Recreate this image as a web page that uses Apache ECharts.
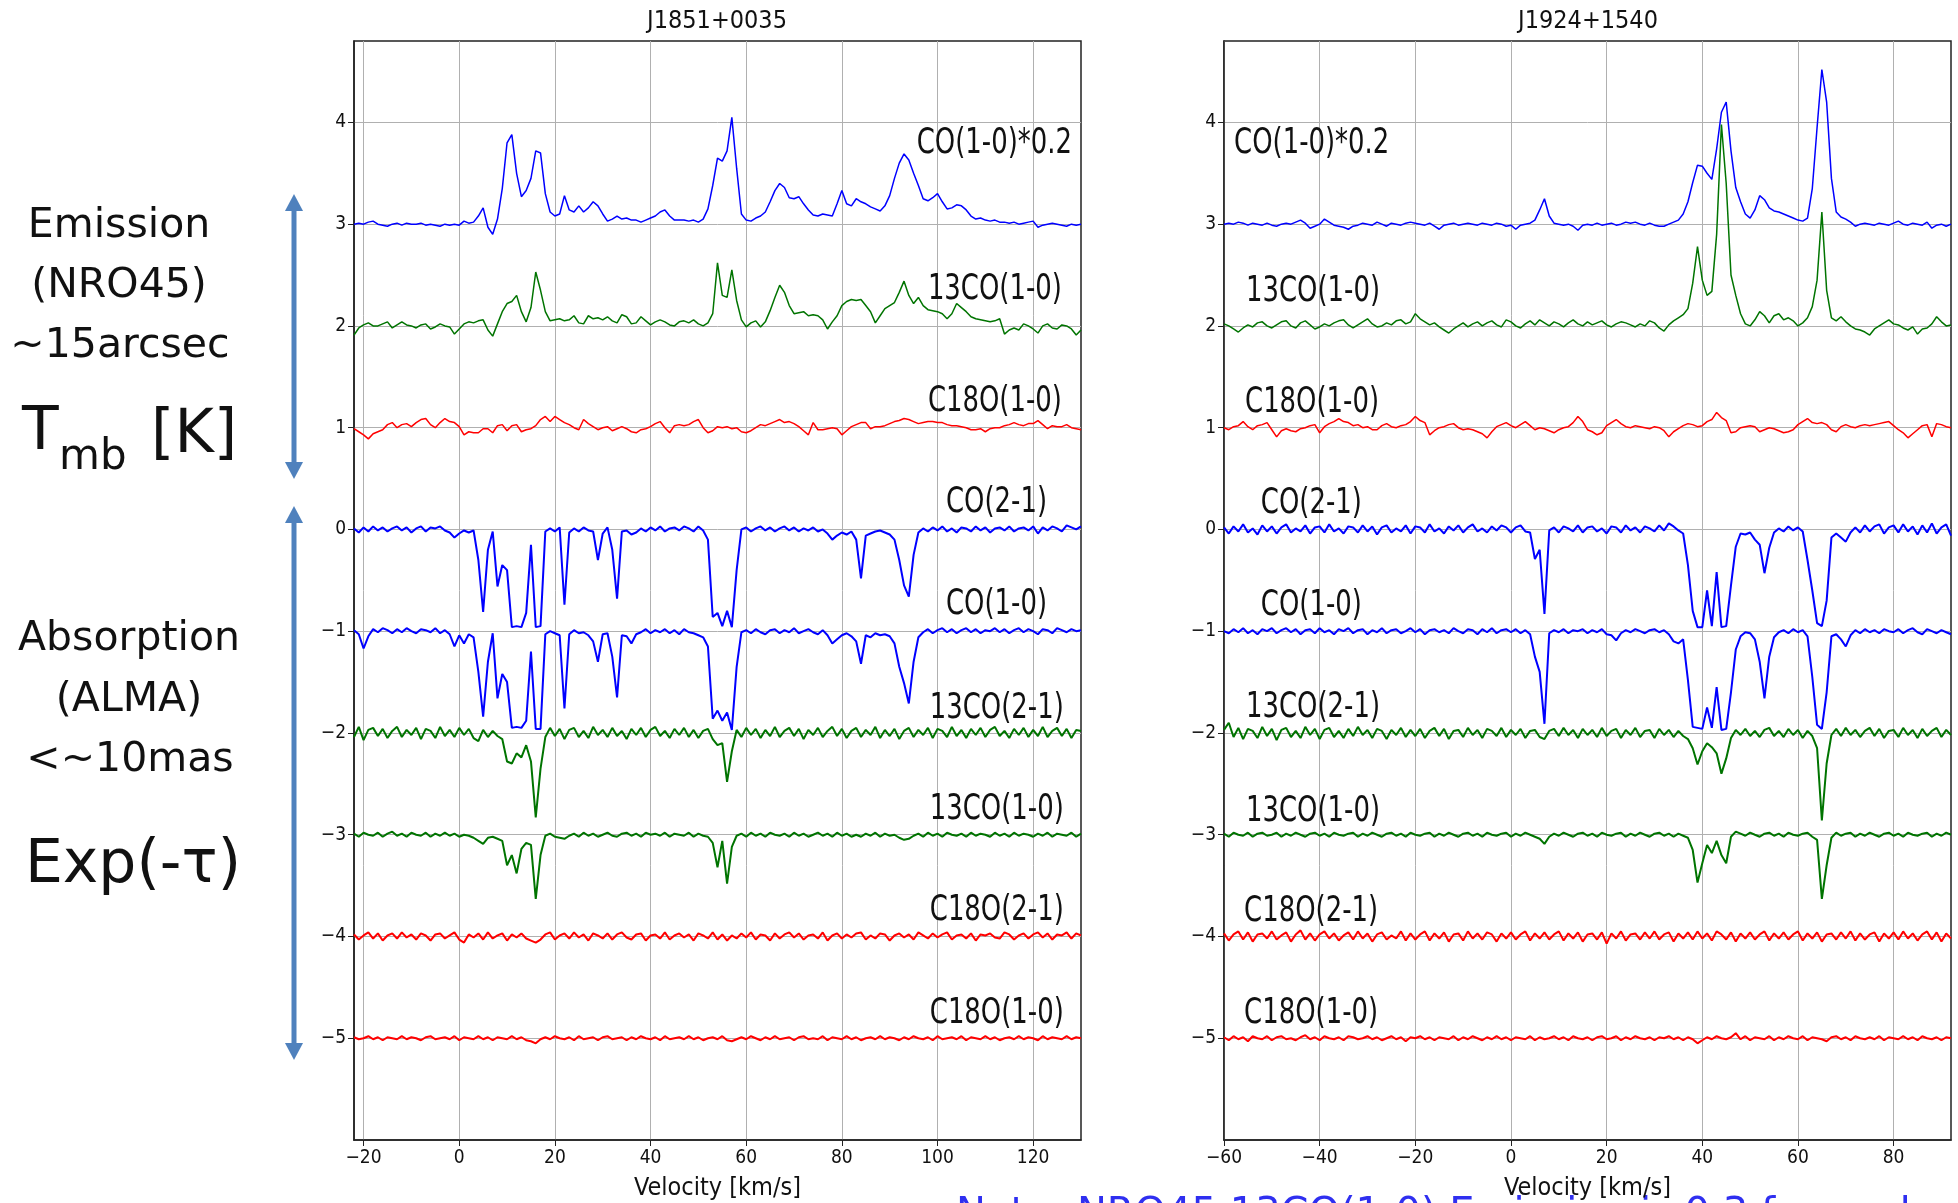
<!DOCTYPE html>
<html>
<head>
<meta charset="utf-8">
<script src="https://cdn.jsdelivr.net/npm/echarts@6/dist/echarts.min.js"></script>
<style>
  html, body { margin: 0; padding: 0; background: #fff; }
  #main { width: 1958px; height: 1203px; }
</style>
</head>
<body>
<div id="main"></div>
<script>
// channel grids, 1 km/s steps starting at these velocities
var leftV0 = -22;
var rightV0 = -60;
var leftXTicks = [-20, 0, 20, 40, 60, 80, 100, 120];
var rightXTicks = [-60, -40, -20, 0, 20, 40, 60, 80];
var yTicks = [-5, -4, -3, -2, -1, 0, 1, 2, 3, 4];

var lineNames = ['CO(1-0)*0.2', '13CO(1-0)', 'C18O(1-0)', 'CO(2-1)', 'CO(1-0)', '13CO(2-1)', '13CO(1-0)', 'C18O(2-1)', 'C18O(1-0)'];
var baselines = [3, 2, 1, 0, -1, -2, -3, -4, -5];

// spectra in 0.01 plot units above their baseline (emission: Tmb, absorption: exp(-tau)-1)
// ---- J1851+0035, v = -22 .. 130 ----
var lCO10e = [
  0,1,0,2,3,0,-1,-2,0,1,
  -1,1,0,0,1,-1,0,-1,-2,0,
  -1,0,-1,3,1,2,8,16,-3,-10,
  5,35,80,88,50,27,33,45,72,70,
  30,12,8,10,28,14,12,18,12,16,
  22,18,10,3,5,8,5,6,4,4,
  2,4,6,8,12,14,8,4,4,4,
  3,4,2,5,15,38,65,62,72,105,
  55,10,4,3,6,8,12,22,33,40,
  36,26,25,27,20,14,9,8,10,9,
  8,20,33,20,18,25,22,20,17,15,
  13,18,28,45,60,69,63,50,38,25,
  23,26,30,22,15,16,19,18,14,8,
  5,6,4,3,4,2,2,1,2,0,
  1,2,3,-3,-1,0,1,0,-1,-2,
  0,-1,0];
var l13CO10e = [
  -9,-2,1,3,0,0,2,4,-2,1,
  4,1,0,-2,1,2,-3,-1,2,0,
  -1,-8,-3,2,4,3,5,6,-4,-10,
  2,14,22,24,30,14,4,18,53,35,
  14,5,6,7,5,6,10,3,2,10,
  7,8,6,9,5,3,11,9,2,3,
  9,5,1,4,6,4,1,0,4,5,
  3,6,2,0,3,12,62,30,28,55,
  25,6,-1,3,5,-1,4,15,28,40,
  33,20,12,13,14,10,11,10,6,-3,
  4,10,20,24,26,25,26,20,14,3,
  10,17,20,23,33,44,30,22,28,20,
  16,15,14,12,7,12,22,18,14,9,
  7,6,5,4,5,7,-8,-4,-2,-4,
  2,0,-3,-7,0,2,-2,-3,1,0,
  -3,-9,-4];
var lC18O10e = [
  -1,-4,-7,-11,-6,-4,-2,3,5,0,
  3,4,1,5,8,9,3,0,5,9,
  6,5,1,-7,-4,-5,-5,-1,-1,-5,
  2,3,-3,2,3,-4,-2,-1,2,8,
  11,6,11,8,5,3,0,-2,8,4,
  1,-2,0,1,-3,-1,1,-1,-4,-5,
  -2,-1,1,4,6,0,-5,2,3,2,
  3,6,8,0,-5,-3,1,0,1,-1,
  0,-4,-5,-3,0,3,2,4,6,8,
  5,6,4,1,-3,-7,5,-2,-2,-1,
  0,-1,-7,-3,1,3,5,5,-1,1,
  1,2,4,6,7,9,8,6,4,5,
  6,6,5,5,3,2,2,1,0,-2,
  -2,-1,-4,-1,0,0,2,3,5,3,
  2,4,4,7,3,-1,2,1,1,3,
  0,-1,-2];
var lCO21a = [
  1,-3,2,-2,3,-1,2,-2,1,3,
  -1,2,-3,1,3,-2,2,1,3,-1,
  -3,-8,-4,-1,-3,-1,-30,-81,-20,-2,
  -56,-35,-40,-96,-95,-96,-82,-15,-96,-95,
  -2,1,-2,2,-74,-3,1,-2,2,-1,
  -2,-30,-4,2,-20,-68,-2,-1,-5,-3,
  1,-2,2,-1,3,-2,1,2,-1,3,
  1,-2,3,-1,-10,-86,-82,-95,-80,-96,
  -40,0,2,-2,1,3,-1,2,-2,1,
  3,-1,2,-2,1,-1,2,-2,0,-4,
  -10,-6,-3,-5,-2,-10,-48,-6,-4,-2,
  -1,-3,-5,-10,-30,-55,-66,-25,-3,1,
  -2,2,-1,3,-2,1,-3,2,1,-2,
  3,-1,2,-3,1,2,-1,3,-2,1,
  2,-1,3,-4,2,-1,3,1,-2,4,
  2,0,3];
var lCO10a = [
  1,-3,-17,-5,2,-1,3,1,-2,2,
  -1,3,0,-2,2,1,-1,3,-2,1,
  -3,-15,-4,-12,-3,-6,-40,-84,-30,-2,
  -66,-42,-50,-95,-94,-95,-88,-20,-96,-96,
  -3,0,-2,-4,-76,-3,1,-2,-1,-4,
  -10,-30,-3,-2,-25,-65,-4,-5,-12,-3,
  -1,2,-2,1,-1,2,-2,1,-3,2,
  -1,-2,-4,-6,-15,-86,-78,-88,-80,-97,
  -35,-1,1,-2,2,-1,-3,1,2,-2,
  1,-1,3,-2,0,2,-1,-3,1,-4,
  -12,-8,-4,-2,-5,-10,-32,-4,-6,-2,
  -4,-3,-5,-12,-35,-51,-71,-30,-6,-1,
  2,-2,1,3,-1,2,-2,1,3,-1,
  2,-2,1,0,3,-1,2,-2,1,3,
  -1,2,0,-3,2,1,-2,3,1,-1,
  2,0,1];
var l13CO21a = [
  -4,6,-7,3,5,-3,4,-5,2,6,
  -4,3,-2,5,-6,4,2,-5,6,-3,
  3,-4,5,-2,4,-5,-8,3,-4,2,
  -3,-6,-28,-30,-20,-24,-12,-28,-83,-35,
  -4,5,-3,4,-6,3,5,-4,2,-5,
  6,-2,3,-4,5,-3,2,-6,4,-2,
  5,-4,3,6,-3,2,-5,4,-2,5,
  -4,3,-5,2,4,-6,-12,-10,-48,-18,
  3,-4,5,-2,4,-5,3,-3,6,-4,
  2,5,-3,4,-6,3,-2,5,-4,2,
  6,-3,4,-5,2,5,-4,3,-2,6,
  -5,3,-3,4,-6,2,5,-4,3,-2,
  5,-5,4,2,-4,6,-3,3,-5,4,
  -2,5,-4,3,6,-3,2,-5,4,-2,
  5,-4,3,-3,6,-4,2,5,-3,4,
  -5,3,2];
var l13CO10a = [
  1,-2,2,0,-1,2,-2,1,3,-1,
  1,-2,2,0,-1,2,-2,1,-1,2,
  -1,1,-2,0,-1,-3,-6,-9,-3,-2,
  -4,-6,-30,-20,-38,-14,-8,-10,-63,-20,
  -1,1,-2,-3,-4,-1,1,-2,2,-1,
  1,-2,0,2,-1,-2,1,2,-1,1,
  -2,2,0,1,-1,2,-2,1,0,-1,
  2,-2,1,-1,-2,-8,-32,-6,-48,-12,
  -1,1,-2,2,-1,1,-2,2,0,-1,
  1,-2,2,-1,1,-2,0,2,-1,1,
  -2,2,-1,1,-2,0,-2,1,-1,2,
  -2,1,-1,0,-3,-5,-4,-1,1,-2,
  2,-1,1,-2,2,0,-1,1,-2,2,
  -1,1,0,-2,2,-1,1,-2,2,-1,
  1,0,-2,1,-1,2,-2,1,0,-1,
  2,-2,1];
var lC18O21a = [
  2,-3,1,4,-2,3,-4,1,3,-2,
  4,-1,2,-3,3,1,-4,2,3,-2,
  1,4,-3,-6,2,-1,3,-3,4,-2,
  1,3,-4,2,-1,3,-2,-4,-6,-3,
  2,4,-3,1,3,-2,4,-1,2,-4,
  3,1,-2,3,-3,2,4,-1,-3,2,
  3,-4,1,2,-2,4,-3,1,3,-1,
  2,-4,3,1,-2,4,-3,2,-4,1,
  -2,3,-1,4,-3,2,1,-4,3,-2,
  2,4,-1,3,-3,1,2,-2,4,-4,
  1,3,-2,2,-1,3,4,-3,1,-2,
  3,2,-4,1,3,-1,2,-3,4,1,
  -2,3,-1,2,4,-3,1,2,-2,3,
  -4,2,1,3,-1,-2,4,2,-3,1,
  3,-2,2,4,-1,3,-3,2,1,4,
  -2,3,1];
var lC18O10a = [
  1,-1,0,2,-1,1,-2,1,0,-1,
  2,-1,1,0,-2,1,2,-1,0,1,
  -1,2,-2,1,0,-1,2,-1,1,-2,
  1,0,-1,2,-1,1,-2,-3,-5,-1,
  1,-1,2,0,-1,1,-2,2,-1,0,
  1,-2,1,2,-1,0,1,-2,1,-1,
  2,0,-1,1,-2,2,-1,0,1,-1,
  2,-1,1,-2,0,1,-1,2,-2,-3,
  -1,1,-1,2,0,-2,1,-1,2,-1,
  0,1,-2,1,2,-1,0,-1,2,-2,
  1,0,-1,2,-1,1,-2,0,1,-1,
  2,-1,1,0,-2,1,-1,2,0,-1,
  1,-2,2,-1,0,1,-1,2,-2,1,
  0,-1,2,-1,1,-2,0,1,-1,2,
  -1,1,0,-2,2,-1,1,0,-1,2,
  -1,1,0];

// ---- J1924+1540, v = -60 .. 92 ----
var rCO10e = [
  0,1,0,2,1,-1,1,0,-1,1,
  -1,-2,0,1,0,2,4,1,-4,-2,
  0,5,2,-1,-2,-3,-5,-2,-1,1,
  0,-1,2,0,-2,1,0,-1,1,2,
  1,0,-1,1,-2,-5,-1,0,1,-1,
  0,1,0,-1,1,0,-1,1,0,-2,
  -1,-5,-1,0,1,4,14,25,8,1,
  0,-1,0,-2,-6,-1,0,-1,1,-1,
  0,1,-1,0,2,1,2,0,-1,1,
  -1,-2,-2,0,2,4,10,22,41,58,
  57,50,44,74,110,120,72,36,22,10,
  6,14,28,24,16,13,12,10,8,6,
  4,3,6,35,95,152,120,45,12,7,
  5,2,-2,0,1,0,-1,1,0,-1,
  1,3,0,-1,1,0,-1,2,-4,-1,
  0,-2,0];
var r13CO10e = [
  2,0,-3,-6,-2,1,-1,3,4,0,
  -2,1,4,5,0,-2,3,5,1,-3,
  -1,2,0,3,5,6,1,-2,1,4,
  7,2,-1,0,3,1,5,6,2,4,
  12,7,4,1,3,-1,-4,-7,-3,0,
  3,-1,2,4,0,3,5,1,-1,6,
  4,0,-2,2,5,1,6,3,0,4,
  2,-1,3,6,2,0,4,1,3,5,
  1,-1,2,4,3,1,-1,2,0,5,
  3,-2,-5,1,5,8,11,17,42,78,
  45,30,34,90,198,140,50,30,12,2,
  0,6,14,10,3,10,12,6,8,5,
  0,3,8,19,45,112,35,8,5,9,
  4,0,-3,-4,-6,-9,-3,0,3,6,
  2,1,-2,-4,-1,-8,-3,-2,2,9,
  4,0,1];
var rC18O10e = [
  0,-2,1,2,6,1,-2,2,3,5,
  -2,-9,-3,-1,-3,-4,-1,0,2,3,
  -5,1,4,6,9,6,5,2,3,0,
  1,-2,-2,2,4,1,0,2,3,6,
  11,7,5,-7,-3,0,1,3,4,0,
  -2,-1,-2,-4,-6,-10,-4,1,3,5,
  2,0,3,6,2,-2,0,-1,-3,-5,
  -2,0,1,5,11,6,-2,-4,-7,-5,
  2,5,8,4,1,0,2,1,0,-1,
  1,0,-3,-9,-4,-1,2,4,3,1,
  2,6,8,15,10,7,-5,-4,0,1,
  2,1,-4,-2,0,-1,-3,-5,-4,-2,
  3,6,9,5,4,5,3,-2,-4,1,
  3,1,0,2,3,2,3,4,5,6,
  2,-2,-5,-10,-6,-2,2,3,-9,4,
  3,1,0];
var rCO21a = [
  2,-4,3,-2,5,-3,1,-5,4,-2,
  3,-4,2,5,-3,1,-2,4,-4,2,
  3,-3,5,-2,1,-4,3,2,-3,4,
  -2,3,-5,2,4,-3,1,-2,4,-4,
  3,2,-3,5,-2,1,-4,3,-1,4,
  -3,2,5,-2,1,-3,3,-1,4,2,
  -3,2,4,-2,-3,-29,-20,-83,-1,2,
  -3,3,1,-2,4,-3,2,3,-2,1,
  -4,3,2,-3,4,-1,2,-3,3,1,
  -2,4,-1,6,3,-1,-4,-35,-80,-96,
  -96,-60,-95,-42,-96,-95,-55,-17,-4,-5,
  -3,-10,-15,-43,-18,-3,1,-2,3,-1,
  2,-2,-30,-60,-92,-95,-70,-8,-4,-8,
  -12,-3,2,-3,4,-2,3,5,-4,2,
  4,-3,5,-2,3,-5,4,-3,6,-4,
  2,5,-6];
var rCO10a = [
  0,-2,2,-1,3,-2,1,-3,2,0,
  3,-2,1,3,-1,2,-3,1,2,-2,
  3,-1,1,-3,2,0,3,-2,1,2,
  -3,1,-1,3,-2,1,2,-2,0,3,
  -1,2,-3,1,2,-1,1,-2,3,0,
  -2,2,1,-3,2,-1,3,-2,1,2,
  -1,2,-2,1,-3,-25,-40,-91,-2,1,
  -1,2,-2,1,0,2,-2,1,-1,2,
  -3,-4,-9,-2,1,-1,2,0,-2,1,
  2,-1,1,-3,-10,-12,-8,-48,-94,-95,
  -96,-75,-95,-55,-97,-96,-60,-18,-5,-1,
  -2,-8,-30,-66,-25,-6,-1,1,-2,2,
  -1,1,-5,-45,-92,-96,-60,-5,-3,-8,
  -15,-4,1,-2,2,-1,1,-2,2,0,
  -1,2,-2,1,3,-1,-3,2,0,-2,
  1,-1,-3];
var r13CO21a = [
  3,10,-4,5,-6,4,2,-5,6,-3,
  4,-7,3,5,-4,2,-5,6,-2,4,
  -6,3,5,-4,2,-5,4,-3,6,-2,
  3,-5,4,2,-6,3,-2,5,-4,3,
  -3,4,-5,2,5,-3,4,-6,2,3,
  -4,5,-2,3,-5,4,2,-3,5,-4,
  3,-2,4,-5,2,3,-4,-6,2,4,
  -3,5,-2,3,-5,4,-2,3,-4,5,
  -3,2,4,-5,3,-2,5,-4,2,3,
  -5,4,-2,3,-4,2,-3,-6,-15,-31,
  -18,-10,-14,-20,-40,-25,-5,3,-2,4,
  -3,2,-4,3,5,-3,2,-4,4,-2,
  3,-5,2,-3,-15,-86,-30,-2,4,-3,
  5,-2,3,-4,2,5,-3,4,-5,2,
  3,-4,5,-2,3,-5,4,-3,2,5,
  -4,3,-2];
var r13CO10a = [
  1,-2,2,0,-1,2,-2,1,2,-1,
  0,2,-2,1,-1,2,0,-2,1,2,
  -1,1,-2,2,0,-1,1,2,-2,1,
  -1,2,0,-2,1,2,-1,1,-2,2,
  0,-1,1,2,-2,1,-1,2,0,-2,
  1,2,-1,1,-2,2,0,-1,1,2,
  -2,1,-1,2,0,-2,-4,-9,-2,1,
  -1,2,0,-2,1,2,-1,1,-2,2,
  0,-1,1,2,-2,1,-1,2,0,-2,
  1,2,-1,1,-2,1,-1,-3,-15,-47,
  -28,-10,-18,-6,-20,-28,-2,3,1,-1,
  2,0,-2,1,2,-1,1,-2,2,0,
  -1,1,2,-2,-5,-63,-30,-3,2,-1,
  1,2,-2,1,-1,2,0,-2,1,2,
  -1,1,-2,2,0,-1,1,2,-2,1,
  -1,2,0];
var rC18O21a = [
  3,-4,2,5,-3,4,-5,2,3,-2,
  5,-3,1,4,-5,2,6,-3,3,-4,
  2,5,-2,3,-4,1,4,-3,5,-2,
  3,-5,2,4,-3,1,-2,5,-4,3,
  -3,2,5,-4,3,-2,4,-5,2,3,
  -4,5,-2,3,-3,4,2,-5,3,-2,
  4,-3,2,5,-4,3,-2,4,-3,2,
  5,-4,3,-2,4,-5,2,3,-3,4,
  -7,3,-2,5,-4,2,3,-3,4,-2,
  5,-3,2,4,-5,3,-2,4,-3,5,
  -2,3,-4,5,2,-3,4,-5,3,-2,
  4,-3,2,5,-4,3,-2,4,-3,2,
  5,-4,3,-2,4,-5,2,3,-3,4,
  -2,5,-4,3,-3,2,4,-5,3,-2,
  4,-3,5,-2,3,-4,2,5,-3,4,
  -5,3,-2];
var rC18O10a = [
  1,-2,2,-1,1,-3,2,0,-1,2,
  -2,1,2,-1,0,-2,1,3,-1,1,
  -2,2,0,-1,1,-2,2,1,-1,0,
  2,-1,1,-2,0,2,-1,1,-3,1,
  0,2,-1,1,-2,1,0,-1,2,-2,
  1,-1,2,0,-2,1,-1,2,-1,1,
  -2,1,0,-1,2,-2,1,-1,0,2,
  -1,1,-2,2,0,-1,1,-2,1,2,
  -1,0,2,-2,1,-1,2,0,-1,1,
  -2,1,0,2,-1,1,-2,1,-1,-5,
  -2,1,-1,2,0,-1,1,5,-1,2,
  -2,1,0,-1,2,-2,1,-1,2,0,
  -1,2,-2,1,0,-1,-3,1,2,-1,
  1,-2,2,0,-1,1,-1,2,-2,1,
  0,-1,2,-1,1,-2,2,0,-1,1,
  -2,1,0];

var leftSpectra = [lCO10e, l13CO10e, lC18O10e, lCO21a, lCO10a, l13CO21a, l13CO10a, lC18O21a, lC18O10a];
var rightSpectra = [rCO10e, r13CO10e, rC18O10e, rCO21a, rCO10a, r13CO21a, r13CO10a, rC18O21a, rC18O10a];

// layout / styles
var lineColors = ['#0000ff', '#007400', '#ff0000', '#0000ff', '#0000ff', '#007400', '#007400', '#ff0000', '#ff0000'];
var axisFont = "'DejaVu Sans Condensed', 'DejaVu Sans', sans-serif";
var labelFont = "'DejaVu Sans Condensed', 'DejaVu Sans', sans-serif";
var sideFont = "'DejaVu Sans', Verdana, sans-serif";
// where each line name sits, in data units (right edge on the left panel, left edge on the right panel)
var leftLabelAt = [[128.1, 3.79], [126, 2.36], [126, 1.26], [122.9, 0.26], [122.9, -0.74], [126.4, -1.76], [126.4, -2.75], [126.4, -3.75], [126.4, -4.76]];
var rightLabelAt = [[-57.9, 3.79], [-55.4, 2.34], [-55.6, 1.25], [-52.3, 0.25], [-52.3, -0.75], [-55.4, -1.75], [-55.4, -2.77], [-55.8, -3.76], [-55.8, -4.76]];

var myChart = echarts.init(document.getElementById('main'));

function fmt(v) {
  return v < 0 ? '\u2212' + (-v) : '' + v;
}

function makeSeries(vals, v0, k, gi) {
  return {
    type: 'line',
    xAxisIndex: gi,
    yAxisIndex: gi,
    data: vals.map(function (d, i) { return [v0 + i, baselines[k] + d / 100]; }),
    showSymbol: false,
    symbol: 'none',
    silent: true,
    animation: false,
    lineStyle: { color: lineColors[k], width: k < 3 ? 1.5 : 2 },
    itemStyle: { color: lineColors[k] },
    z: 3
  };
}

function xAxisDef(gi, min, max, ticks) {
  return {
    type: 'value', gridIndex: gi, min: min, max: max,
    name: 'Velocity [km/s]', nameLocation: 'middle', nameGap: 36,
    nameTextStyle: { fontFamily: axisFont, fontSize: 25, color: '#111' },
    axisLine: { show: true, onZero: false, lineStyle: { color: '#222', width: 1.5 } },
    axisTick: { show: true, customValues: ticks, length: 6, lineStyle: { color: '#222' } },
    axisLabel: { customValues: ticks, formatter: fmt, fontFamily: axisFont, fontSize: 19, color: '#111', margin: 9 },
    splitLine: { show: true, lineStyle: { color: '#b0b0b0', width: 1 } }
  };
}

function yAxisDef(gi) {
  return {
    type: 'value', gridIndex: gi, min: -6, max: 4.8,
    axisLine: { show: true, onZero: false, lineStyle: { color: '#222', width: 1.5 } },
    axisTick: { show: true, customValues: yTicks, length: 6, lineStyle: { color: '#222' } },
    axisLabel: { customValues: yTicks, formatter: fmt, fontFamily: axisFont, fontSize: 19, color: '#111', margin: 8 },
    splitLine: { show: true, lineStyle: { color: '#b0b0b0', width: 1 } }
  };
}

var series = [];
leftSpectra.forEach(function (s, k) { series.push(makeSeries(s, leftV0, k, 0)); });
rightSpectra.forEach(function (s, k) { series.push(makeSeries(s, rightV0, k, 1)); });

var option = {
  backgroundColor: '#fff',
  animation: false,
  grid: [
    { left: 354, right: 877, top: 41, bottom: 63, show: true, borderColor: '#222', borderWidth: 1.5, outerBoundsMode: 'none' },
    { left: 1224, right: 7, top: 41, bottom: 63, show: true, borderColor: '#222', borderWidth: 1.5, outerBoundsMode: 'none' }
  ],
  xAxis: [xAxisDef(0, -22, 130, leftXTicks), xAxisDef(1, -60, 92, rightXTicks)],
  yAxis: [yAxisDef(0), yAxisDef(1)],
  series: series
};
myChart.setOption(option);

// annotations
var graphic = [];
function addText(str, x, y, size, font, align, sx) {
  graphic.push({
    type: 'text', x: x, y: y, scaleX: sx || 1, silent: true, z: 10,
    style: { text: str, fontSize: size, fontFamily: font, fill: '#111', textAlign: align || 'center', textVerticalAlign: 'middle' }
  });
}
addText('J1851+0035', 717, 21, 25, axisFont);
addText('J1924+1540', 1588, 21, 25, axisFont);

// line names, squeezed horizontally like the original figure
lineNames.forEach(function (name, k) {
  var p = myChart.convertToPixel({ gridIndex: 0 }, leftLabelAt[k]);
  addText(name, p[0], p[1], 36, labelFont, 'right', 0.8);
  var q = myChart.convertToPixel({ gridIndex: 1 }, rightLabelAt[k]);
  addText(name, q[0], q[1], 36, labelFont, 'left', 0.8);
});

addText('Emission', 119, 226, 41, sideFont);
addText('(NRO45)', 119, 286, 41, sideFont);
addText('~15arcsec', 120, 346, 41, sideFont);
addText('T', 22, 433, 60, sideFont, 'left');
addText('mb', 59, 458, 42, sideFont, 'left');
addText('[K]', 151, 436, 60, sideFont, 'left');
addText('Absorption', 129, 639, 41, sideFont);
addText('(ALMA)', 129, 700, 41, sideFont);
addText('<~10mas', 130, 760, 41, sideFont);
addText('Exp(-\u03c4)', 133, 866, 60, sideFont);

// double-headed arrows
var arrowColor = '#4f81bd';
function addArrow(x, y1, y2) {
  graphic.push({ type: 'line', silent: true, shape: { x1: x, y1: y1 + 14, x2: x, y2: y2 - 14 }, style: { stroke: arrowColor, lineWidth: 5 } });
  graphic.push({ type: 'polygon', silent: true, shape: { points: [[x, y1], [x - 9, y1 + 17], [x + 9, y1 + 17]] }, style: { fill: arrowColor } });
  graphic.push({ type: 'polygon', silent: true, shape: { points: [[x, y2], [x - 9, y2 - 17], [x + 9, y2 - 17]] }, style: { fill: arrowColor } });
}
addArrow(294, 194, 479);
addArrow(294, 506, 1060);

// note cut off at the bottom edge
graphic.push({
  type: 'text', x: 956, y: 1196, silent: true,
  style: { text: 'Note: NRO45 13CO(1-0) Emission is 0.3 for each', fontSize: 40, fontFamily: sideFont, fill: '#2f2ff0', textAlign: 'left', textVerticalAlign: 'top' }
});

myChart.setOption({ graphic: graphic });
</script>
</body>
</html>
